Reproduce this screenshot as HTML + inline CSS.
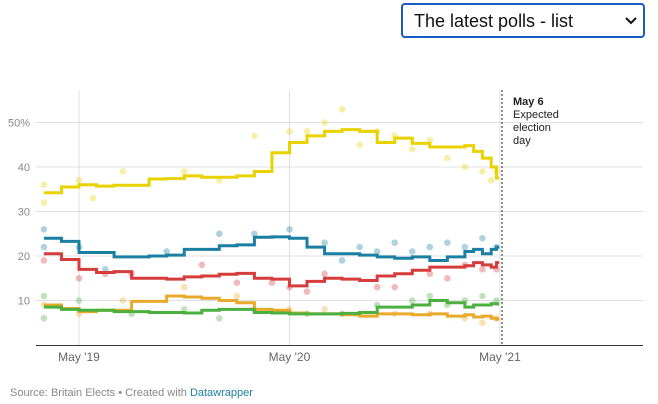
<!DOCTYPE html>
<html><head><meta charset="utf-8"><style>
body{margin:0;width:658px;height:404px;background:#fff;font-family:"Liberation Sans",sans-serif;overflow:hidden;position:relative}
#sel{position:absolute;left:401px;top:3px;width:240px;height:31px;border:2px solid #1a5bc4;border-radius:4px;box-sizing:content-box}
#sel span{position:absolute;left:11px;top:6px;font-size:18px;color:#111}
#sel svg{position:absolute;right:6px;top:12px}
#foot{position:absolute;left:10px;top:387px;font-size:11px;color:#888}
#foot a{color:#1d81a2;text-decoration:none}
</style></head><body>
<div id="sel"><span>The latest polls - list</span><svg width="12" height="8"><path d="M1 1 L6 6 L11 1" stroke="#111" stroke-width="2" fill="none"/></svg></div>
<svg id="chart" width="658" height="380" style="position:absolute;left:0;top:0"></svg>
<div id="foot">Source: Britain Elects • Created with <a href="#">Datawrapper</a></div>
<script>
const months=[-2,-1,0,1,2,3,4,5,6,7,8,9,10,11,12,13,14,15,16,17,18,19,20,21,22,22.5,23,23.5,23.8];
const lab=[34.2,35.5,36,35.7,35.9,35.9,37.3,37.4,38,37.7,37.7,38,39,43.2,45.5,47,48,48.4,48,45.5,46.5,45.3,44.5,44.5,44.8,43.5,42,40,37.5];
const con=[24,23.3,20.8,20.8,19.8,19.8,20,20.2,21.5,21.5,22.3,22.5,24.2,24.3,24,22,20.5,20.5,20.2,19.8,19.5,19.8,19,19.8,21,21.5,20.5,21.5,22];
const ld=[20.5,19.2,17,16.3,16.5,15,15,14.8,15.3,15.5,15.9,16.1,15,14.8,13.3,14.3,15,14.8,14.5,15.5,16,16.8,17.5,17.5,17.8,18.5,18,17.5,18.5];
const grn=[9,8.2,7.5,7.8,7.8,9.8,9.8,11,10.8,10.5,10,9.5,8,7.8,7.2,7,7,6.8,6.5,7,7,6.8,7,6.5,6.8,6.3,6.5,6,5.8];
const oth=[8.5,8,7.8,7.8,7.5,7.5,7.3,7.3,7.2,7.8,8,8,7.3,7.2,7,7,7,7.1,7.3,8.5,8.5,9,10,9.5,8.5,9,9,9.3,9.2];
const endMonth=23.95;
const labDots=[[-2,32],[-2,36],[0,37],[0.8,33],[2.5,39],[6,39],[8,37],[10,47],[12,48],[13,48],[14,50],[15,53],[16,45],[17,48],[18,47],[19,44],[20,46],[21,42],[22,40],[23,39],[23.5,37],[23.8,39]];
const conDots=[[-2,26],[-2,22],[0,22],[1.5,17],[5,21],[8,25],[10,25],[12,26],[14,23],[15,19],[16,22],[17,21],[18,23],[19,21],[20,22],[21,23],[22,22],[23,24],[23.8,22]];
const ldDots=[[-2,19],[0,15],[1.5,16],[3,16],[7,18],[9,14],[11,14],[12,13],[13,12],[14,16],[17,13],[18,13],[20,16],[21,15],[22,18],[23,17],[23.8,17]];
const grnDots=[[-2,9],[0,7],[2.5,10],[6,13],[9,11],[12,8],[14,8],[16,7],[18,7],[20,7],[22,6],[23,5],[23.8,6]];
const othDots=[[-2,11],[-2,6],[0,10],[3,7],[6,8],[8,6],[10,8],[13,7],[15,7],[17,9],[19,10],[20,11],[21,9],[22,10],[23,11],[23.8,10]];
const yTicks=[10,20,30,40,50];
const xTicks=[[0,"May '19"],[12,"May '20"],[24,"May '21"]];
const NS="http://www.w3.org/2000/svg";
const svg=document.getElementById('chart');
const X=m=>79+m*17.54, Y=v=>345-v*4.45;
function el(t,a,p){const e=document.createElementNS(NS,t);for(const k in a)e.setAttribute(k,a[k]);(p||svg).appendChild(e);return e;}
yTicks.forEach(v=>{
 const g=el('line',{x1:36,x2:643,y1:Y(v),y2:Y(v),stroke:'#e0e0e0'});
 
 
 const t=el('text',{x:30,y:Y(v)+4,'text-anchor':'end','font-size':11,fill:'#888'});
 t.textContent=v===50?'50%':v;
 
 
});
xTicks.forEach(([m,s])=>{
 const g=el('line',{x1:X(m),x2:X(m),y1:90,y2:345,stroke:'#e0e0e0'});
 
 
 const t=el('text',{x:X(m),y:361,'text-anchor':'middle','font-size':12,fill:'#666'});
 t.textContent=s;
 
 
});
const ax=el('line',{x1:36,x2:643,y1:345.5,y2:345.5,stroke:'#333'});


function dots(arr,c,name){arr.forEach(([m,v])=>{const d=el('circle',{cx:X(m),cy:Y(v),r:3.3,fill:c,opacity:0.35});
 
 });}
dots(labDots,'#e8d200','poll-dot-lab');dots(conDots,'#1b7ea3','poll-dot-con');dots(ldDots,'#d63c3c','poll-dot-libdem');dots(grnDots,'#e9a92a','poll-dot-other');dots(othDots,'#4bb03f','poll-dot-green');
function step(vals,c,name){let d='';vals.forEach((v,i)=>{const x=X(months[i]);d+=(i?'H'+x+'V'+Y(v):'M'+x+' '+Y(v));});d+='H'+X(endMonth);
 const p=el('path',{d:d,fill:'none',stroke:c,'stroke-width':3});
 
 }
step(grn,'#e9a92a','line-orange');step(oth,'#4bb03f','line-green');step(ld,'#d63c3c','line-red');step(con,'#1b7ea3','line-blue');step(lab,'#e8d200','line-yellow');
const dl=el('line',{x1:502,x2:502,y1:90,y2:345,stroke:'#222','stroke-dasharray':'2,2'});


const ann=el('text',{x:513,y:105,'font-size':11,fill:'#222'});


[['May 6',true],['Expected'],['election'],['day']].forEach(([s,b],i)=>{const t=el('tspan',{x:513,dy:i?13:0,'font-weight':b?'bold':'normal'},ann);t.textContent=s;});
</script>
</body></html>
